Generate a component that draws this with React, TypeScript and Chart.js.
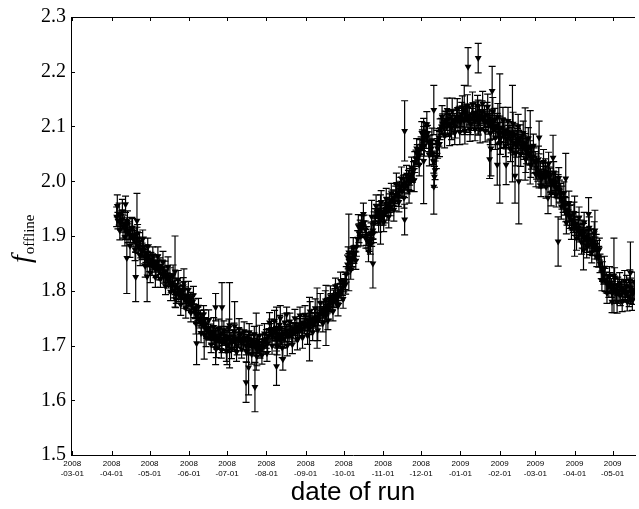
import React, { useEffect, useRef } from 'react';
import { Chart, registerables } from 'chart.js';

Chart.register(...registerables);

// x axis: days since 2008-03-01
const monthTickDays = [0, 31, 61, 92, 122, 153, 184, 214, 245, 275, 306, 337, 365, 396, 426];
const monthTickLabels = [
  ['2008', '-03-01'], ['2008', '-04-01'], ['2008', '-05-01'], ['2008', '-06-01'],
  ['2008', '-07-01'], ['2008', '-08-01'], ['2008', '-09-01'], ['2008', '-10-01'],
  ['2008', '-11-01'], ['2008', '-12-01'], ['2009', '-01-01'], ['2009', '-02-01'],
  ['2009', '-03-01'], ['2009', '-04-01'], ['2009', '-05-01'],
];
const yTickValues = [1.5, 1.6, 1.7, 1.8, 1.9, 2.0, 2.1, 2.2, 2.3];

// morning runs: one per day, starting at day 35 (2008-04-05)
const firstRunDay = 35;
const fOffline = [
  1.935, 1.928, 1.940, 1.925, 1.930, 1.918, 1.922, 1.912, 1.920, 1.905,
  1.910, 1.902, 1.915, 1.895, 1.900, 1.888, 1.896, 1.882, 1.890, 1.875,
  1.872, 1.880, 1.862, 1.868, 1.858, 1.865, 1.850, 1.857, 1.845, 1.852,
  1.848, 1.840, 1.852, 1.838, 1.845, 1.832, 1.840, 1.828, 1.835, 1.825,
  1.830, 1.818, 1.825, 1.810, 1.815, 1.800, 1.808, 1.795, 1.805, 1.792,
  1.800, 1.790, 1.798, 1.785, 1.792, 1.780, 1.788, 1.778, 1.785, 1.775,
  1.780, 1.768, 1.762, 1.755, 1.758, 1.748, 1.750, 1.740, 1.745, 1.735,
  1.738, 1.728, 1.732, 1.722, 1.725, 1.718, 1.722, 1.712, 1.718, 1.710,
  1.715, 1.708, 1.720, 1.705, 1.712, 1.718, 1.708, 1.714, 1.702, 1.716,
  1.710, 1.705, 1.716, 1.708, 1.712, 1.700, 1.710, 1.718, 1.706, 1.712,
  1.708, 1.714, 1.700, 1.706, 1.712, 1.702, 1.708, 1.698, 1.705, 1.700,
  1.695, 1.703, 1.698, 1.692, 1.700, 1.705, 1.698, 1.708, 1.712, 1.704,
  1.718, 1.725, 1.730, 1.720, 1.728, 1.715, 1.722, 1.712, 1.718, 1.710,
  1.716, 1.722, 1.712, 1.720, 1.726, 1.718, 1.722, 1.728, 1.720, 1.726,
  1.730, 1.724, 1.735, 1.728, 1.732, 1.738, 1.730, 1.742, 1.735, 1.740,
  1.738, 1.745, 1.735, 1.742, 1.748, 1.740, 1.750, 1.745, 1.752, 1.748,
  1.756, 1.762, 1.758, 1.765, 1.760, 1.768, 1.772, 1.766, 1.775, 1.780,
  1.778, 1.785, 1.790, 1.784, 1.795, 1.792, 1.800, 1.798, 1.805, 1.810,
  1.818, 1.830, 1.848, 1.855, 1.852, 1.860, 1.858, 1.866, 1.870, 1.880,
  1.895, 1.905, 1.915, 1.922, 1.918, 1.925, 1.912, 1.900, 1.892, 1.888,
  1.884, 1.895, 1.910, 1.925, 1.935, 1.945, 1.940, 1.948, 1.938, 1.944,
  1.935, 1.942, 1.950, 1.945, 1.955, 1.960, 1.952, 1.965, 1.970, 1.962,
  1.975, 1.980, 1.972, 1.985, 1.990, 1.982, 1.995, 1.988, 1.998, 1.992,
  2.002, 2.008, 2.000, 2.012, 2.020, 2.035, 2.042, 2.050, 2.045, 2.058,
  2.065, 2.075, 2.085, 2.090, 2.080, 2.088, 2.072, 2.068, 2.060, 2.050,
  2.035, 2.020, 2.045, 2.060, 2.080, 2.095, 2.100, 2.105, 2.098, 2.108,
  2.110, 2.102, 2.115, 2.105, 2.098, 2.112, 2.108, 2.100, 2.115, 2.110,
  2.118, 2.108, 2.122, 2.115, 2.110, 2.125, 2.118, 2.112, 2.120, 2.105,
  2.115, 2.122, 2.110, 2.125, 2.118, 2.108, 2.120, 2.114, 2.126, 2.112,
  2.118, 2.110, 2.122, 2.105, 2.115, 2.100, 2.108, 2.095, 2.112, 2.098,
  2.102, 2.088, 2.095, 2.080, 2.098, 2.085, 2.092, 2.078, 2.090, 2.082,
  2.088, 2.075, 2.082, 2.070, 2.085, 2.068, 2.078, 2.072, 2.080, 2.065,
  2.070, 2.062, 2.068, 2.055, 2.060, 2.048, 2.052, 2.042, 2.045, 2.038,
  2.035, 2.025, 2.018, 2.010, 2.015, 2.005, 2.012, 2.008, 2.018, 2.010,
  2.015, 2.008, 2.002, 1.995, 2.000, 1.992, 1.998, 1.988, 1.990, 1.982,
  1.978, 1.970, 1.962, 1.955, 1.948, 1.940, 1.945, 1.935, 1.938, 1.928,
  1.925, 1.918, 1.922, 1.912, 1.915, 1.905, 1.910, 1.900, 1.905, 1.895,
  1.898, 1.890, 1.895, 1.885, 1.892, 1.882, 1.888, 1.878, 1.884, 1.875,
  1.862, 1.850, 1.842, 1.835, 1.828, 1.820, 1.815, 1.812, 1.808, 1.815,
  1.805, 1.798, 1.810, 1.802, 1.795, 1.808, 1.800, 1.792, 1.805, 1.798,
  1.802, 1.795, 1.808, 1.798, 1.790, 1.805, 1.800, 1.795, 1.802,
];
const fErr = [
  0.018, 0.015, 0.020, 0.014, 0.016, 0.022, 0.015, 0.018, 0.013, 0.017,
  0.016, 0.014, 0.019, 0.015, 0.013, 0.017, 0.020, 0.014, 0.016, 0.015,
  0.015, 0.018, 0.013, 0.016, 0.014, 0.019, 0.015, 0.013, 0.017, 0.014,
  0.014, 0.016, 0.013, 0.018, 0.015, 0.012, 0.016, 0.014, 0.019, 0.013,
  0.015, 0.013, 0.017, 0.014, 0.016, 0.013, 0.015, 0.018, 0.014, 0.012,
  0.016, 0.014, 0.012, 0.017, 0.015, 0.013, 0.016, 0.014, 0.012, 0.015,
  0.014, 0.017, 0.013, 0.015, 0.012, 0.016, 0.014, 0.018, 0.013, 0.015,
  0.013, 0.015, 0.017, 0.012, 0.014, 0.016, 0.013, 0.015, 0.012, 0.017,
  0.016, 0.013, 0.015, 0.018, 0.012, 0.014, 0.017, 0.013, 0.015, 0.012,
  0.014, 0.016, 0.012, 0.015, 0.013, 0.017, 0.014, 0.012, 0.016, 0.013,
  0.015, 0.012, 0.017, 0.014, 0.013, 0.016, 0.012, 0.015, 0.018, 0.013,
  0.014, 0.017, 0.013, 0.015, 0.012, 0.016, 0.014, 0.013, 0.017, 0.015,
  0.013, 0.015, 0.018, 0.012, 0.016, 0.014, 0.013, 0.017, 0.015, 0.012,
  0.015, 0.013, 0.016, 0.014, 0.012, 0.017, 0.015, 0.013, 0.016, 0.014,
  0.012, 0.016, 0.014, 0.013, 0.017, 0.015, 0.012, 0.016, 0.014, 0.013,
  0.016, 0.013, 0.015, 0.017, 0.012, 0.014, 0.016, 0.013, 0.015, 0.012,
  0.014, 0.017, 0.013, 0.015, 0.016, 0.012, 0.014, 0.018, 0.013, 0.015,
  0.013, 0.016, 0.014, 0.012, 0.017, 0.015, 0.013, 0.016, 0.014, 0.012,
  0.016, 0.014, 0.017, 0.013, 0.015, 0.018, 0.014, 0.016, 0.013, 0.017,
  0.015, 0.017, 0.014, 0.016, 0.019, 0.013, 0.015, 0.017, 0.014, 0.016,
  0.017, 0.014, 0.016, 0.019, 0.015, 0.013, 0.017, 0.015, 0.018, 0.014,
  0.015, 0.018, 0.014, 0.016, 0.013, 0.017, 0.015, 0.019, 0.014, 0.016,
  0.016, 0.014, 0.018, 0.015, 0.017, 0.013, 0.016, 0.018, 0.014, 0.015,
  0.018, 0.015, 0.017, 0.014, 0.016, 0.019, 0.015, 0.017, 0.014, 0.018,
  0.016, 0.019, 0.015, 0.017, 0.020, 0.014, 0.018, 0.016, 0.015, 0.019,
  0.020, 0.017, 0.022, 0.018, 0.016, 0.019, 0.015, 0.018, 0.017, 0.020,
  0.017, 0.020, 0.016, 0.019, 0.022, 0.018, 0.016, 0.021, 0.017, 0.019,
  0.019, 0.017, 0.022, 0.018, 0.020, 0.016, 0.019, 0.023, 0.017, 0.020,
  0.018, 0.021, 0.017, 0.020, 0.019, 0.022, 0.018, 0.017, 0.021, 0.019,
  0.020, 0.018, 0.022, 0.019, 0.017, 0.023, 0.020, 0.018, 0.021, 0.019,
  0.022, 0.019, 0.024, 0.020, 0.018, 0.023, 0.021, 0.019, 0.022, 0.020,
  0.021, 0.023, 0.019, 0.022, 0.020, 0.024, 0.018, 0.021, 0.023, 0.020,
  0.020, 0.022, 0.019, 0.023, 0.021, 0.018, 0.022, 0.020, 0.019, 0.023,
  0.019, 0.021, 0.018, 0.022, 0.020, 0.017, 0.021, 0.019, 0.023, 0.018,
  0.020, 0.018, 0.022, 0.019, 0.017, 0.021, 0.019, 0.018, 0.022, 0.020,
  0.018, 0.021, 0.019, 0.017, 0.022, 0.020, 0.018, 0.021, 0.019, 0.017,
  0.019, 0.017, 0.021, 0.018, 0.020, 0.016, 0.019, 0.022, 0.018, 0.020,
  0.018, 0.020, 0.017, 0.019, 0.021, 0.018, 0.016, 0.020, 0.019, 0.017,
  0.019, 0.017, 0.020, 0.018, 0.016, 0.021, 0.019, 0.017, 0.020, 0.018,
  0.017, 0.019, 0.016, 0.020, 0.018, 0.017, 0.021, 0.019, 0.016, 0.018,
  0.018, 0.016, 0.020, 0.017, 0.019, 0.018, 0.016, 0.020, 0.017,
];

// evening runs: every second day, starting at day 35.5
const firstEveningDay = 35.5;
const fOfflineEvening = [
  1.955, 1.910, 1.945, 1.898, 1.927, 1.882, 1.915, 1.875, 1.905, 1.864,
  1.894, 1.845, 1.880, 1.833, 1.865, 1.825, 1.863, 1.822, 1.852, 1.808,
  1.844, 1.798, 1.828, 1.784, 1.820, 1.775, 1.808, 1.768, 1.802, 1.760,
  1.792, 1.740, 1.771, 1.723, 1.757, 1.715, 1.746, 1.702, 1.734, 1.694,
  1.730, 1.692, 1.728, 1.690, 1.732, 1.694, 1.726, 1.688, 1.730, 1.693,
  1.726, 1.688, 1.724, 1.684, 1.720, 1.680, 1.718, 1.682, 1.722, 1.686,
  1.742, 1.700, 1.745, 1.698, 1.738, 1.696, 1.742, 1.700, 1.744, 1.702,
  1.750, 1.710, 1.755, 1.714, 1.756, 1.718, 1.762, 1.724, 1.768, 1.728,
  1.778, 1.740, 1.782, 1.745, 1.790, 1.762, 1.808, 1.772, 1.818, 1.785,
  1.812, 1.860, 1.838, 1.878, 1.855, 1.918, 1.900, 1.940, 1.895, 1.872,
  1.905, 1.905, 1.955, 1.925, 1.962, 1.925, 1.968, 1.935, 1.978, 1.948,
  1.995, 1.962, 2.005, 1.970, 2.012, 1.982, 2.025, 2.002, 2.060, 2.030,
  2.088, 2.065, 2.104, 2.048, 2.075, 2.008, 2.072, 2.068, 2.118, 2.083,
  2.130, 2.085, 2.128, 2.088, 2.132, 2.090, 2.135, 2.092, 2.138, 2.095,
  2.140, 2.095, 2.138, 2.094, 2.142, 2.092, 2.136, 2.088, 2.128, 2.080,
  2.118, 2.070, 2.112, 2.065, 2.110, 2.058, 2.105, 2.052, 2.100, 2.050,
  2.088, 2.040, 2.078, 2.030, 2.065, 2.012, 2.040, 1.992, 2.035, 1.990,
  2.032, 1.978, 2.016, 1.975, 2.006, 1.954, 1.978, 1.924, 1.960, 1.913,
  1.942, 1.896, 1.934, 1.888, 1.925, 1.882, 1.915, 1.870, 1.905, 1.862,
  1.876, 1.818, 1.842, 1.796, 1.827, 1.780, 1.824, 1.780, 1.814, 1.780,
  1.818, 1.780, 1.818, 1.782, 1.815,
];
const fErrEvening = [
  0.020, 0.017, 0.022, 0.016, 0.019, 0.021, 0.017, 0.020, 0.016, 0.018,
  0.017, 0.020, 0.016, 0.018, 0.015, 0.019, 0.017, 0.016, 0.020, 0.015,
  0.018, 0.016, 0.019, 0.015, 0.017, 0.020, 0.016, 0.018, 0.015, 0.017,
  0.016, 0.019, 0.015, 0.018, 0.016, 0.017, 0.019, 0.015, 0.017, 0.016,
  0.018, 0.015, 0.017, 0.019, 0.016, 0.018, 0.015, 0.017, 0.019, 0.016,
  0.017, 0.019, 0.016, 0.018, 0.015, 0.017, 0.019, 0.016, 0.018, 0.015,
  0.018, 0.016, 0.019, 0.015, 0.017, 0.018, 0.016, 0.019, 0.015, 0.017,
  0.016, 0.018, 0.015, 0.019, 0.017, 0.016, 0.018, 0.015, 0.017, 0.019,
  0.017, 0.015, 0.018, 0.016, 0.019, 0.017, 0.015, 0.018, 0.016, 0.017,
  0.018, 0.020, 0.017, 0.019, 0.016, 0.021, 0.018, 0.020, 0.017, 0.019,
  0.019, 0.017, 0.020, 0.018, 0.021, 0.017, 0.019, 0.020, 0.018, 0.021,
  0.020, 0.018, 0.021, 0.019, 0.017, 0.022, 0.019, 0.021, 0.018, 0.020,
  0.021, 0.019, 0.023, 0.020, 0.022, 0.019, 0.021, 0.023, 0.020, 0.022,
  0.022, 0.020, 0.024, 0.021, 0.019, 0.023, 0.021, 0.024, 0.020, 0.022,
  0.023, 0.021, 0.019, 0.024, 0.022, 0.020, 0.023, 0.021, 0.025, 0.022,
  0.024, 0.021, 0.023, 0.020, 0.025, 0.022, 0.021, 0.024, 0.022, 0.023,
  0.022, 0.024, 0.020, 0.023, 0.021, 0.022, 0.024, 0.020, 0.023, 0.021,
  0.021, 0.023, 0.020, 0.022, 0.019, 0.023, 0.021, 0.020, 0.022, 0.019,
  0.020, 0.022, 0.019, 0.021, 0.018, 0.022, 0.020, 0.019, 0.021, 0.018,
  0.020, 0.018, 0.021, 0.019, 0.017, 0.020, 0.018, 0.021, 0.019, 0.018,
  0.019, 0.017, 0.020, 0.018, 0.019,
];

// runs with large uncertainties
const outlierDay = [
  42, 43, 50, 51, 59, 81, 88, 98, 104, 113, 113, 118, 122, 124, 128, 137, 139, 144, 145, 161,
  161, 164, 166, 169, 187, 193, 200, 218, 236, 237, 243, 262, 262, 277, 285, 285, 309, 312, 320, 320,
  329, 330, 331, 335, 337, 342, 347, 349, 352, 357, 361, 368, 375, 379, 383, 389, 396, 403, 407, 412,
  427, 440,
];
const outlierF = [
  1.958, 1.86, 1.825, 1.928, 1.826, 1.835, 1.814, 1.704, 1.72, 1.77, 1.695, 1.77, 1.70, 1.737, 1.735, 1.633, 1.66, 1.624, 1.707, 1.662,
  1.73, 1.75, 1.675, 1.757, 1.73, 1.75, 1.755, 1.87, 1.935, 1.85, 1.93, 2.092, 1.93, 2.037, 2.13, 1.99, 2.13, 2.209, 2.225, 2.116,
  2.04, 2.06, 2.165, 2.03, 2.078, 2.03, 2.087, 2.01, 2.0, 2.068, 2.062, 2.08, 1.97, 2.043, 1.89, 2.005, 1.918, 1.874, 1.94, 1.91,
  1.828, 1.833,
];
const outlierErr = [
  0.015, 0.065, 0.045, 0.05, 0.046, 0.065, 0.026, 0.039, 0.045, 0.025, 0.03, 0.045, 0.035, 0.078, 0.045, 0.037, 0.05, 0.045, 0.052, 0.035,
  0.04, 0.023, 0.02, 0.013, 0.058, 0.055, 0.055, 0.07, 0.03, 0.045, 0.045, 0.055, 0.028, 0.078, 0.045, 0.05, 0.045, 0.035, 0.027, 0.032,
  0.035, 0.05, 0.045, 0.037, 0.118, 0.036, 0.088, 0.05, 0.078, 0.066, 0.067, 0.03, 0.029, 0.041, 0.045, 0.046, 0.055, 0.036, 0.03, 0.037,
  0.068, 0.056,
];

const framePlugin = {
  id: 'frame',
  beforeDatasetsDraw(chart: any) {
    const { ctx, chartArea, scales } = chart;
    const xs = scales.x;
    const ys = scales.y;
    ctx.save();
    ctx.beginPath();
    ctx.rect(chartArea.left, chartArea.top, chartArea.right - chartArea.left, chartArea.bottom - chartArea.top);
    ctx.clip();
    ctx.strokeStyle = '#000';
    ctx.lineWidth = 1.2;
    chart.data.datasets.forEach((ds: any) => {
      ds.data.forEach((p: any, i: number) => {
        const e = ds.errors[i];
        const px = xs.getPixelForValue(p.x);
        const y1 = ys.getPixelForValue(p.y + e);
        const y2 = ys.getPixelForValue(p.y - e);
        ctx.beginPath();
        ctx.moveTo(px, y1);
        ctx.lineTo(px, y2);
        ctx.moveTo(px - 3.5, y1);
        ctx.lineTo(px + 3.5, y1);
        ctx.moveTo(px - 3.5, y2);
        ctx.lineTo(px + 3.5, y2);
        ctx.stroke();
      });
    });
    ctx.restore();
  },
  afterDraw(chart: any) {
    const { ctx, chartArea, scales } = chart;
    const { left, right, top, bottom } = chartArea;
    ctx.save();
    ctx.strokeStyle = '#000';
    ctx.lineWidth = 1;
    ctx.beginPath();
    ctx.moveTo(left, Math.round(top) + 0.5);
    ctx.lineTo(right, Math.round(top) + 0.5);
    scales.y.ticks.forEach((t: any) => {
      const py = Math.round(scales.y.getPixelForValue(t.value)) + 0.5;
      ctx.moveTo(left, py);
      ctx.lineTo(left + 4, py);
    });
    scales.x.ticks.forEach((t: any) => {
      const px = Math.round(scales.x.getPixelForValue(t.value)) + 0.5;
      ctx.moveTo(px, bottom);
      ctx.lineTo(px, bottom - 4);
      ctx.moveTo(px, top);
      ctx.lineTo(px, top + 4);
    });
    ctx.stroke();

    // y axis label: f_offline
    ctx.fillStyle = '#000';
    ctx.translate(30, 263);
    ctx.rotate(-Math.PI / 2);
    ctx.textBaseline = 'alphabetic';
    ctx.textAlign = 'left';
    ctx.font = 'italic 28px "Liberation Serif"';
    ctx.fillText('f', 0, 0);
    const fw = ctx.measureText('f').width;
    ctx.font = '15px "Liberation Serif"';
    ctx.fillText('offline', fw + 1, 4);
    ctx.restore();
  },
};

export default function App() {
  const ref = useRef<HTMLCanvasElement | null>(null);
  useEffect(() => {
    if (!ref.current) return;
    const morning = fOffline.map((v, i) => ({ x: firstRunDay + i, y: v }));
    const evening = fOfflineEvening.map((v, i) => ({ x: firstEveningDay + 2 * i, y: v }));
    const outliers = outlierDay.map((d, i) => ({ x: d, y: outlierF[i] }));
    const pointStyle = {
      pointStyle: 'triangle',
      rotation: 180,
      radius: 4,
      backgroundColor: '#000',
      borderColor: '#000',
      borderWidth: 0,
    };
    const chart = new Chart(ref.current, {
      type: 'scatter',
      data: {
        datasets: [
          { data: morning, errors: fErr, ...pointStyle } as any,
          { data: evening, errors: fErrEvening, ...pointStyle } as any,
          { data: outliers, errors: outlierErr, ...pointStyle } as any,
        ],
      },
      options: {
        animation: false,
        responsive: false,
        devicePixelRatio: 1,
        layout: { padding: { top: 16, right: 0, left: 0, bottom: 0 } },
        plugins: { legend: { display: false }, tooltip: { enabled: false } },
        scales: {
          x: {
            type: 'linear',
            min: -1,
            max: 443.6,
            grid: { display: false, drawTicks: false },
            border: { display: true, color: '#000', width: 1 },
            afterBuildTicks: (s: any) => {
              s.ticks = monthTickDays.map((v) => ({ value: v }));
            },
            afterFit: (s: any) => {
              s.height = 54;
            },
            ticks: {
              autoSkip: false,
              maxRotation: 0,
              minRotation: 0,
              padding: 4,
              color: '#000',
              font: { family: 'Liberation Sans', size: 8, lineHeight: 1.25 },
              callback: (value: any) => {
                const i = monthTickDays.indexOf(Number(value));
                return i >= 0 ? monthTickLabels[i] : '';
              },
            },
            title: {
              display: true,
              text: 'date of run',
              color: '#000',
              font: { family: 'Liberation Sans', size: 26, lineHeight: 1 },
              padding: { top: 0, bottom: 3 },
            },
          },
          y: {
            type: 'linear',
            min: 1.5,
            max: 2.3,
            grid: { display: false, drawTicks: false },
            border: { display: true, color: '#000', width: 1 },
            afterBuildTicks: (s: any) => {
              s.ticks = yTickValues.map((v) => ({ value: v }));
            },
            afterFit: (s: any) => {
              s.width = 71;
            },
            ticks: {
              padding: 5,
              color: '#000',
              font: { family: 'Liberation Serif', size: 20 },
              callback: (value: any) => Number(value).toFixed(1),
            },
          },
        },
      },
      plugins: [framePlugin],
    } as any);
    return () => chart.destroy();
  }, []);
  return (
    <div style={{ position: 'absolute', left: 0, top: 0, width: 639, height: 509 }}>
      <canvas ref={ref} width={639} height={509} style={{ display: 'block' }} />
    </div>
  );
}
